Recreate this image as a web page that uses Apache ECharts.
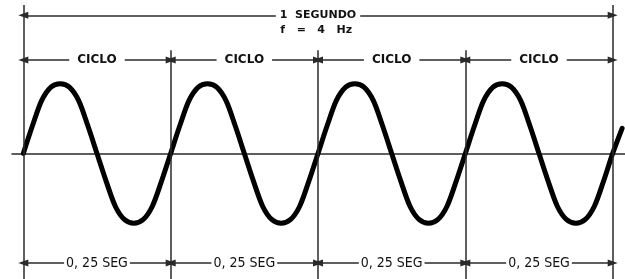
<!DOCTYPE html>
<html>
<head>
<meta charset="utf-8">
<script src="https://cdn.jsdelivr.net/npm/echarts@6/dist/echarts.min.js"></script>
<style>
    html, body { margin: 0; padding: 0; background: #fff; }
    #chart { width: 625px; height: 279px; }
</style>
</head>
<body>
<div id="chart"></div>
<script>
    // datos (tiempo en segundos, amplitud normalizada)
    const cycleEdges = [0, 0.25, 0.5, 0.75, 1];
    const cycleLabels = ['CICLO', 'CICLO', 'CICLO', 'CICLO'];
    const periodLabels = ['0, 25 SEG', '0, 25 SEG', '0, 25 SEG', '0, 25 SEG'];
    const totalLabel = '1  SEGUNDO';
    const freqLabel = 'f   =   4   Hz';

    // muestras cada 1/64 s
    const waveTime = [
        0, 0.015625, 0.03125, 0.046875, 0.0625, 0.078125, 0.09375, 0.109375,
        0.125, 0.140625, 0.15625, 0.171875, 0.1875, 0.203125, 0.21875, 0.234375,
        0.25, 0.265625, 0.28125, 0.296875, 0.3125, 0.328125, 0.34375, 0.359375,
        0.375, 0.390625, 0.40625, 0.421875, 0.4375, 0.453125, 0.46875, 0.484375,
        0.5, 0.515625, 0.53125, 0.546875, 0.5625, 0.578125, 0.59375, 0.609375,
        0.625, 0.640625, 0.65625, 0.671875, 0.6875, 0.703125, 0.71875, 0.734375,
        0.75, 0.765625, 0.78125, 0.796875, 0.8125, 0.828125, 0.84375, 0.859375,
        0.875, 0.890625, 0.90625, 0.921875, 0.9375, 0.953125, 0.96875, 0.984375,
        1, 1.016
    ];
    const waveValue = [
        0, 0.4, 0.76, 0.95, 1, 0.95, 0.76, 0.4,
        0, -0.4, -0.76, -0.95, -1, -0.95, -0.76, -0.4,
        0, 0.4, 0.76, 0.95, 1, 0.95, 0.76, 0.4,
        0, -0.4, -0.76, -0.95, -1, -0.95, -0.76, -0.4,
        0, 0.4, 0.76, 0.95, 1, 0.95, 0.76, 0.4,
        0, -0.4, -0.76, -0.95, -1, -0.95, -0.76, -0.4,
        0, 0.4, 0.76, 0.95, 1, 0.95, 0.76, 0.4,
        0, -0.4, -0.76, -0.95, -1, -0.95, -0.76, -0.4,
        0, 0.36
    ];

    // alturas de las cotas (en unidades del eje y)
    const rowTotal = 1.98;
    const rowFreq = 1.77;
    const rowCycle = 1.34;
    const rowPeriod = -1.57;
    const outerTop = 2.13;
    const innerTop = 1.48;
    const lineBottom = -1.8;

    const lineColor = '#2a2a2a';

    function arrowRow(y, labels) {
        const out = [];
        for (let i = 0; i < labels.length; i++) {
            out.push([
                {coord: [cycleEdges[i], y], name: labels[i]},
                {coord: [cycleEdges[i + 1], y]}
            ]);
        }
        return out;
    }

    const verticals = cycleEdges.map((x, i) => {
        const top = (i === 0 || i === cycleEdges.length - 1) ? outerTop : innerTop;
        return [{coord: [x, top]}, {coord: [x, lineBottom]}];
    });

    const waveData = waveTime.map((t, i) => [t, waveValue[i]]);

    const dimLine = {color: lineColor, width: 1.5, type: 'solid'};

    function dimLabel(font, size, weight, pad) {
        return {
            show: true,
            position: 'middle',
            distance: 0,
            verticalAlign: 'middle',
            align: 'center',
            formatter: '{b}',
            color: '#111',
            fontFamily: font,
            fontWeight: weight,
            fontSize: size,
            backgroundColor: '#fff',
            padding: pad
        };
    }

    let option = {
        animation: false,
        backgroundColor: '#fff',
        grid: {left: 12, right: 0, top: 0, bottom: 0},
        xAxis: {
            type: 'value',
            min: -0.0192,
            max: 1.0209,
            axisLine: {show: true, onZero: true, lineStyle: {color: lineColor, width: 1.5}},
            axisTick: {show: false},
            axisLabel: {show: false},
            splitLine: {show: false}
        },
        yAxis: {
            type: 'value',
            min: -1.8,
            max: 2.2,
            show: false,
            splitLine: {show: false}
        },
        series: [
            {
                // líneas verticales
                type: 'line',
                data: [],
                silent: true,
                markLine: {
                    silent: true,
                    symbol: ['none', 'none'],
                    label: {show: false},
                    lineStyle: dimLine,
                    emphasis: {disabled: true},
                    data: verticals
                }
            },
            {
                // 1 SEGUNDO
                type: 'line',
                data: [],
                markLine: {
                    silent: true,
                    symbol: ['triangle', 'triangle'],
                    symbolSize: [7, 10],
                    lineStyle: dimLine,
                    emphasis: {disabled: true},
                    label: dimLabel('DejaVu Sans', 11, 'bold', [1, 4]),
                    data: [[{coord: [0, rowTotal], name: totalLabel}, {coord: [1, rowTotal]}]]
                },
                markPoint: {
                    silent: true,
                    symbol: 'circle',
                    symbolSize: 0,
                    label: {
                        show: true,
                        position: 'inside',
                        formatter: '{b}',
                        color: '#111',
                        fontFamily: 'DejaVu Sans',
                        fontWeight: 'bold',
                        fontSize: 11
                    },
                    data: [{coord: [0.497, rowFreq], name: freqLabel}]
                }
            },
            {
                // CICLO
                type: 'line',
                data: [],
                markLine: {
                    silent: true,
                    symbol: ['triangle', 'triangle'],
                    symbolSize: [7, 10],
                    lineStyle: dimLine,
                    emphasis: {disabled: true},
                    label: dimLabel('DejaVu Sans', 12, 'bold', [1, 8]),
                    data: arrowRow(rowCycle, cycleLabels)
                }
            },
            {
                // 0,25 SEG
                type: 'line',
                data: [],
                markLine: {
                    silent: true,
                    symbol: ['triangle', 'triangle'],
                    symbolSize: [7, 10],
                    lineStyle: dimLine,
                    emphasis: {disabled: true},
                    label: dimLabel('DejaVu Sans Condensed', 14, 'normal', [1, 2]),
                    data: arrowRow(rowPeriod, periodLabels)
                }
            },
            {
                // onda senoidal
                type: 'line',
                data: waveData,
                smooth: 0.3,
                showSymbol: false,
                silent: true,
                lineStyle: {color: '#000', width: 5, cap: 'round', join: 'round'}
            }
        ]
    };

    let chart = echarts.init(document.getElementById('chart'), null, {renderer: 'canvas'});
    chart.setOption(option);
    window.addEventListener('resize', function () {
        chart.resize();
    });
</script>
</body>
</html>
